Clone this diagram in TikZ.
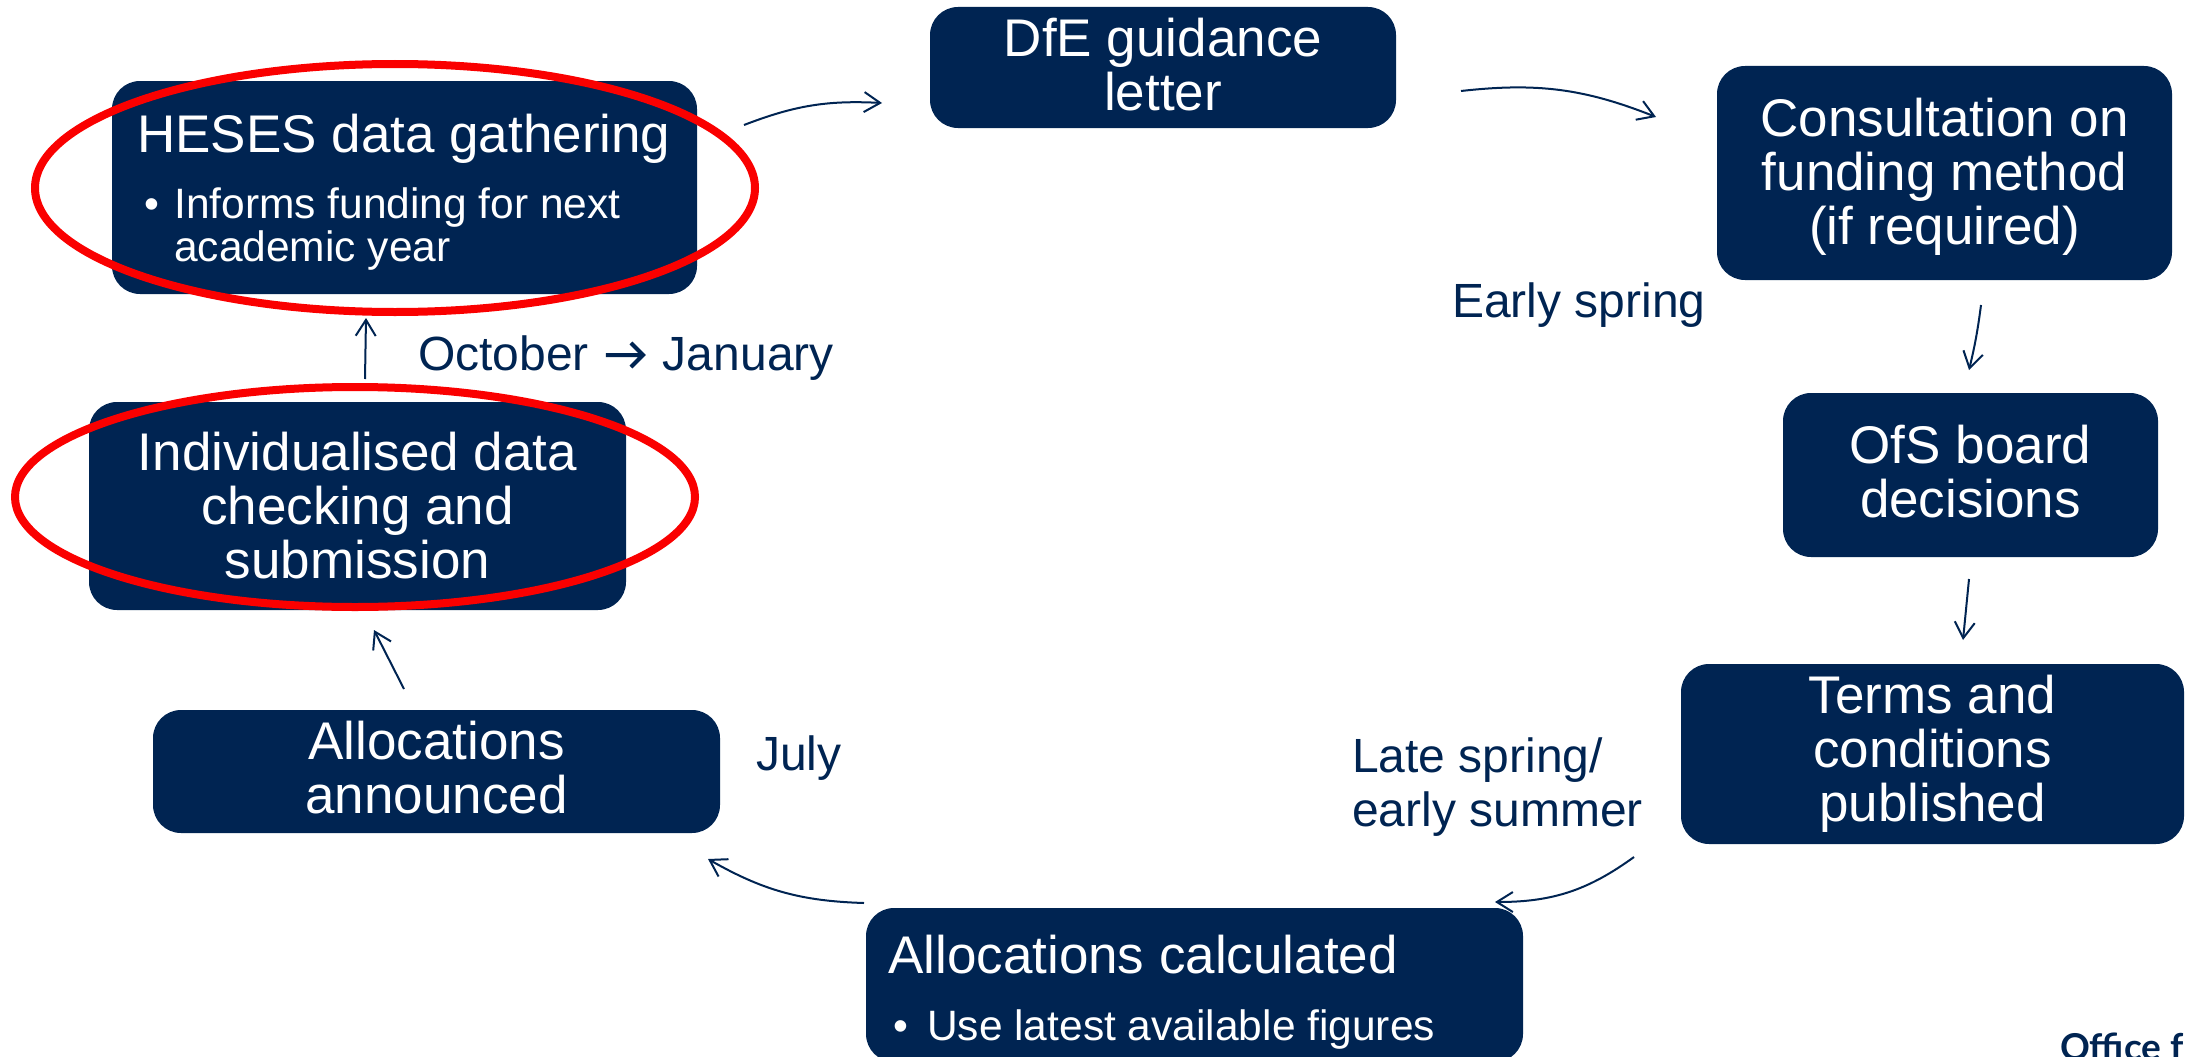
\documentclass[tikz,border=0pt]{standalone}
\usepackage{fontspec}
\setmainfont{Liberation Sans}
\newfontfamily\logofont{Lato}
\usetikzlibrary{arrows.meta}
\definecolor{navy}{RGB}{0,36,82}
\definecolor{ovalred}{RGB}{250,0,0}
\newcommand{\bigarrowglyph}{\tikz[baseline=-15pt,x=1pt,y=1pt]{\path[use as bounding box] (0,-12) rectangle (39,12);\draw[navy,line width=4pt,line join=miter] (0,0) -- (37,0) (25,12) -- (37,0) -- (25,-12);}}
\begin{document}
\begin{tikzpicture}[x=1pt,y=-1pt,
  box/.style={fill=navy, rounded corners=28pt, inner sep=0pt, text=white, align=center, font=\fontsize{53}{54}\selectfont},
  lbl/.style={text=navy, inner sep=0pt, anchor=base west, font=\fontsize{48}{54}\selectfont},
  bigtxt/.style={text=white, inner sep=0pt, anchor=base west, font=\fontsize{53}{54}\selectfont},
  smalltxt/.style={text=white, inner sep=0pt, anchor=base west, font=\fontsize{42.5}{43}\selectfont},
  flow/.style={draw=navy, line width=2pt, -{Straight Barb[length=16pt,width=20pt,line width=2pt]}},
  oval/.style={draw=ovalred, line width=8pt}]
\clip (0,0) rectangle (2187,1057);
% boxes
\node[box, minimum width=585pt, minimum height=213pt] (heses) at (404.5,187.5) {};
\node[box, minimum width=466pt, minimum height=121pt] (dfe) at (1163,67.5) {};
\node[box, minimum width=455pt, minimum height=214pt] (consult) at (1944.5,173) {};
\node[box, minimum width=375pt, minimum height=164pt] (ofs) at (1970.5,475) {};
\node[box, minimum width=503pt, minimum height=180pt] (terms) at (1932.5,754) {Terms and\\conditions\\published};
\node[box, minimum width=657pt, minimum height=154pt] (calc) at (1194.5,985) {};
\node[box, minimum width=567pt, minimum height=123pt] (ann) at (436.5,771.5) {};
\node[box, minimum width=537pt, minimum height=208pt] (indiv) at (357.5,506) {Individualised data\\checking and\\submission};
% centred texts shifted slightly inside their boxes
\node[box, fill=none, yshift=3pt] (dfeT) at (dfe.center) {DfE guidance\\letter};
\node[box, fill=none, yshift=-4pt] (consultT) at (consult.center) {Consultation on\\funding method\\(if required)};
\node[box, fill=none, yshift=3pt] (ofsT) at (ofs.center) {OfS board\\decisions};
\node[box, fill=none, yshift=4pt] (annT) at (ann.center) {Allocations\\announced};
% texts in left-aligned boxes
\node[bigtxt] (hesesT) at (137,152) {HESES data gathering};
\node[smalltxt] (hesesD) at (144,218) {•};
\node[smalltxt] (hesesB1) at (174,218) {Informs funding for next};
\node[smalltxt] (hesesB2) at (174,261) {academic year};
\node[bigtxt] (calcT) at (888,973) {Allocations calculated};
\node[smalltxt] (calcD) at (893,1040) {•};
\node[smalltxt] (calcB) at (927,1040) {Use latest available figures};
% labels
\node[lbl] (oct) at (418,370) {October\hspace*{17pt}\bigarrowglyph\hspace*{18pt}January};
\node[lbl] (spring) at (1452,317) {Early spring};
\node[lbl] (july) at (756,770) {July};
\node[lbl] (late1) at (1352,772) {Late spring/};
\node[lbl] (late2) at (1352,826) {early summer};
\node[anchor=base west, inner sep=0pt, text=navy, font=\logofont\bfseries\fontsize{37}{37}\selectfont] (logo) at (2060,1060) {Office f};
% red ovals
\draw[oval] (395,188) ellipse [x radius=360, y radius=124];
\draw[oval] (355,497) ellipse [x radius=340, y radius=110];
% connectors
\coordinate (a1s) at (744,125); \coordinate (a1e) at (882,103);
\coordinate (a2s) at (1461,91); \coordinate (a2e) at (1656,117);
\coordinate (a3s) at (1981,305); \coordinate (a3e) at (1969,370);
\coordinate (a4s) at (1969,579); \coordinate (a4e) at (1963,640);
\coordinate (a5s) at (1634,857); \coordinate (a5e) at (1495,902);
\coordinate (a6s) at (864,903); \coordinate (a6e) at (708,859);
\coordinate (a7s) at (404,689); \coordinate (a7e) at (374,630);
\coordinate (a8s) at (365,379); \coordinate (a8e) at (366,318);
\draw[flow] (a1s) to[bend left=12] (a1e);
\draw[flow] (a2s) to[bend left=14] (a2e);
\draw[flow] (a3s) to[bend left=3] (a3e);
\draw[flow] (a4s) to (a4e);
\draw[flow] (a5s) to[bend left=18] (a5e);
\draw[flow] (a6s) to[bend left=14] (a6e);
\draw[flow] (a7s) to (a7e);
\draw[flow] (a8s) to (a8e);
\end{tikzpicture}
\end{document}
